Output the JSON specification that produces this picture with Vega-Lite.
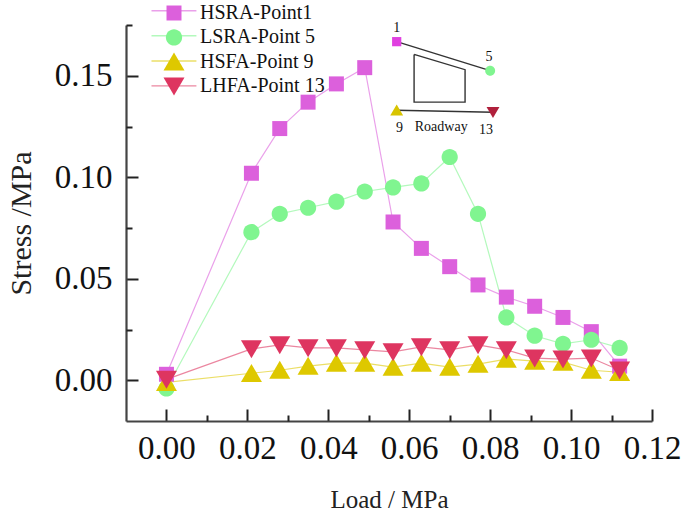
{
"$schema":"https://vega.github.io/schema/vega-lite/v6.json",
"width":526,"height":396,
"autosize":{"type":"none"},
"padding":{"left":126,"top":25,"right":33,"bottom":93},
"background":"white",
"config":{"view":{"stroke":null},"font":"Liberation Serif"},
"datasets":{
"main":[
{"load":0,"stress":0.003,"series":"HSRA-Point1"},{"load":0.021,"stress":0.102,"series":"HSRA-Point1"},{"load":0.028,"stress":0.124,"series":"HSRA-Point1"},{"load":0.035,"stress":0.137,"series":"HSRA-Point1"},{"load":0.042,"stress":0.146,"series":"HSRA-Point1"},{"load":0.049,"stress":0.154,"series":"HSRA-Point1"},{"load":0.056,"stress":0.078,"series":"HSRA-Point1"},{"load":0.063,"stress":0.065,"series":"HSRA-Point1"},{"load":0.07,"stress":0.056,"series":"HSRA-Point1"},{"load":0.077,"stress":0.047,"series":"HSRA-Point1"},{"load":0.084,"stress":0.041,"series":"HSRA-Point1"},{"load":0.091,"stress":0.0365,"series":"HSRA-Point1"},{"load":0.098,"stress":0.031,"series":"HSRA-Point1"},{"load":0.105,"stress":0.024,"series":"HSRA-Point1"},{"load":0.112,"stress":0.007,"series":"HSRA-Point1"},
{"load":0,"stress":-0.004,"series":"LSRA-Point 5"},{"load":0.021,"stress":0.073,"series":"LSRA-Point 5"},{"load":0.028,"stress":0.082,"series":"LSRA-Point 5"},{"load":0.035,"stress":0.085,"series":"LSRA-Point 5"},{"load":0.042,"stress":0.088,"series":"LSRA-Point 5"},{"load":0.049,"stress":0.093,"series":"LSRA-Point 5"},{"load":0.056,"stress":0.095,"series":"LSRA-Point 5"},{"load":0.063,"stress":0.097,"series":"LSRA-Point 5"},{"load":0.07,"stress":0.11,"series":"LSRA-Point 5"},{"load":0.077,"stress":0.082,"series":"LSRA-Point 5"},{"load":0.084,"stress":0.031,"series":"LSRA-Point 5"},{"load":0.091,"stress":0.022,"series":"LSRA-Point 5"},{"load":0.098,"stress":0.018,"series":"LSRA-Point 5"},{"load":0.105,"stress":0.02,"series":"LSRA-Point 5"},{"load":0.112,"stress":0.016,"series":"LSRA-Point 5"},
{"load":0,"stress":-0.001,"series":"HSFA-Point 9"},{"load":0.021,"stress":0.0035,"series":"HSFA-Point 9"},{"load":0.028,"stress":0.005,"series":"HSFA-Point 9"},{"load":0.035,"stress":0.007,"series":"HSFA-Point 9"},{"load":0.042,"stress":0.0085,"series":"HSFA-Point 9"},{"load":0.049,"stress":0.0085,"series":"HSFA-Point 9"},{"load":0.056,"stress":0.0065,"series":"HSFA-Point 9"},{"load":0.063,"stress":0.0085,"series":"HSFA-Point 9"},{"load":0.07,"stress":0.0065,"series":"HSFA-Point 9"},{"load":0.077,"stress":0.008,"series":"HSFA-Point 9"},{"load":0.084,"stress":0.0105,"series":"HSFA-Point 9"},{"load":0.091,"stress":0.0095,"series":"HSFA-Point 9"},{"load":0.098,"stress":0.009,"series":"HSFA-Point 9"},{"load":0.105,"stress":0.005,"series":"HSFA-Point 9"},{"load":0.112,"stress":0.004,"series":"HSFA-Point 9"},
{"load":0,"stress":0.0005,"series":"LHFA-Point 13"},{"load":0.021,"stress":0.0155,"series":"LHFA-Point 13"},{"load":0.028,"stress":0.0175,"series":"LHFA-Point 13"},{"load":0.035,"stress":0.016,"series":"LHFA-Point 13"},{"load":0.042,"stress":0.016,"series":"LHFA-Point 13"},{"load":0.049,"stress":0.015,"series":"LHFA-Point 13"},{"load":0.056,"stress":0.014,"series":"LHFA-Point 13"},{"load":0.063,"stress":0.0165,"series":"LHFA-Point 13"},{"load":0.07,"stress":0.015,"series":"LHFA-Point 13"},{"load":0.077,"stress":0.0175,"series":"LHFA-Point 13"},{"load":0.084,"stress":0.015,"series":"LHFA-Point 13"},{"load":0.091,"stress":0.011,"series":"LHFA-Point 13"},{"load":0.098,"stress":0.0105,"series":"LHFA-Point 13"},{"load":0.105,"stress":0.011,"series":"LHFA-Point 13"},{"load":0.112,"stress":0.005,"series":"LHFA-Point 13"}
],
"legendLines":[
{"load":-0.0037,"load2":0.0074,"stress":0.182,"series":"HSRA-Point1"},
{"load":-0.0037,"load2":0.0074,"stress":0.1697,"series":"LSRA-Point 5"},
{"load":-0.0037,"load2":0.0074,"stress":0.1573,"series":"HSFA-Point 9"},
{"load":-0.0037,"load2":0.0074,"stress":0.145,"series":"LHFA-Point 13"}
],
"insetLines":[
{"part":"top","order":1,"load":0.0569,"stress":0.1668},{"part":"top","order":2,"load":0.08,"stress":0.1525},
{"part":"bottom","order":1,"load":0.0569,"stress":0.133},{"part":"bottom","order":2,"load":0.0807,"stress":0.132},
{"part":"room","order":1,"load":0.0612,"stress":0.1605},{"part":"room","order":2,"load":0.0738,"stress":0.153},{"part":"room","order":3,"load":0.0738,"stress":0.137},{"part":"room","order":4,"load":0.0612,"stress":0.137},{"part":"room","order":5,"load":0.0612,"stress":0.1605}
],
"insetPoints":[
{"load":0.0569,"stress":0.1668,"series":"HSRA-Point1","point":"1"},{"load":0.08,"stress":0.1525,"series":"LSRA-Point 5","point":"5"},{"load":0.0569,"stress":0.133,"series":"HSFA-Point 9","point":"9"},{"load":0.0807,"stress":0.132,"series":"LHFA-Point 13","point":"13"}
],
"insetText":[
{"load":0.0569,"stress":0.1735,"label":"1"},{"load":0.0797,"stress":0.159,"label":"5"},{"load":0.0576,"stress":0.1245,"label":"9"},{"load":0.0679,"stress":0.1247,"label":"Roadway"},{"load":0.0790,"stress":0.1235,"label":"13"}
]
},
"layer":[
{"data":{"name":"main"},
 "mark":{"type":"line","strokeWidth":1.2,"strokeOpacity":0.6},
 "encoding":{
  "x":{"field":"load","type":"quantitative","scale":{"domain":[-0.01,0.12],"nice":false,"zero":false},
   "axis":{"orient":"bottom","values":[0,0.02,0.04,0.06,0.08,0.1,0.12],"format":".2f","title":"Load / MPa","titleFont":"Liberation Serif","titleFontSize":25,"titleFontWeight":"normal","titleColor":"#222","titlePadding":22,"labelFont":"Liberation Serif","labelFontSize":33,"labelColor":"#111","labelPadding":23,"labelFlush":false,"labelOverlap":false,"tickSize":-12,"tickWidth":2,"tickColor":"#222","domainWidth":2.2,"domainColor":"#444","grid":false}},
  "y":{"field":"stress","type":"quantitative","scale":{"domain":[-0.02,0.175],"nice":false,"zero":false},
   "axis":{"orient":"left","values":[0,0.05,0.1,0.15],"format":".2f","title":"Stress /MPa","titleFont":"Liberation Serif","titleFontSize":30,"titleFontWeight":"normal","titleColor":"#222","titlePadding":18,"labelFont":"Liberation Serif","labelFontSize":33,"labelColor":"#111","labelPadding":26,"labelFlush":false,"labelOverlap":false,"tickSize":-12,"tickWidth":2,"tickColor":"#222","domainWidth":2.2,"domainColor":"#444","grid":false}},
  "color":{"field":"series","type":"nominal","title":null,"sort":null,"scale":{"domain":["HSRA-Point1","LSRA-Point 5","HSFA-Point 9","LHFA-Point 13"],"range":["#DC60DC","#80F590","#DEC800","#DE3560"]},
   "legend":{"orient":"none","legendX":38,"legendY":-22,"title":null,"labelFont":"Liberation Serif","labelFontSize":20,"labelColor":"#111","labelOffset":16,"rowPadding":4.4,"gridAlign":"all","symbolSize":225,"symbolStrokeWidth":0,
    "encode":{"symbols":{"update":{"shape":{"signal":"datum.value==='HSRA-Point1'?'M-1,-1H1V1H-1Z':datum.value==='LSRA-Point 5'?'M-1.08,0A1.08,1.08 0 1,1 1.08,0A1.08,1.08 0 1,1 -1.08,0Z':datum.value==='HSFA-Point 9'?'M0,-1.25L1.4,1.15H-1.4Z':'M0,1.25L1.4,-1.15H-1.4Z'"},"fill":{"signal":"scale('color',datum.value)"},"fillOpacity":{"value":1},"opacity":{"value":1}}}}}},
  "detail":{"field":"series"}
 }},
{"data":{"name":"legendLines"},
 "mark":{"type":"rule","strokeWidth":1.4,"strokeOpacity":0.6},
 "encoding":{
  "x":{"field":"load","type":"quantitative","axis":null},
  "x2":{"field":"load2"},
  "y":{"field":"stress","type":"quantitative","axis":null},
  "color":{"field":"series","type":"nominal","title":null,"sort":null}
 }},
{"data":{"name":"main"},
 "mark":{"type":"point","filled":true,"opacity":1,"size":225},
 "encoding":{
  "x":{"field":"load","type":"quantitative","axis":{"orient":"bottom","values":[0.01,0.03,0.05,0.07,0.09,0.11],"labels":false,"title":null,"domain":false,"grid":false,"tickSize":-6,"tickWidth":2,"tickColor":"#222"}},
  "y":{"field":"stress","type":"quantitative","axis":{"orient":"left","values":[0.025,0.075,0.125,0.175],"labels":false,"title":null,"domain":false,"grid":false,"tickSize":-6,"tickWidth":2,"tickColor":"#222"}},
  "color":{"field":"series","type":"nominal","title":null,"sort":null},
  "shape":{"field":"series","type":"nominal","title":null,"sort":null,"legend":null,"scale":{"domain":["HSRA-Point1","LSRA-Point 5","HSFA-Point 9","LHFA-Point 13"],"range":["M-1,-1H1V1H-1Z","M-1.08,0A1.08,1.08 0 1,1 1.08,0A1.08,1.08 0 1,1 -1.08,0Z","M0,-1.25L1.4,1.15H-1.4Z","M0,1.25L1.4,-1.15H-1.4Z"]}}
 }},
{"data":{"name":"insetLines"},
 "mark":{"type":"line","stroke":"#333","strokeWidth":1.4,"order":true},
 "encoding":{"x":{"field":"load","type":"quantitative","axis":null},"y":{"field":"stress","type":"quantitative","axis":null},"detail":{"field":"part"},"order":{"field":"order"}}},
{"data":{"name":"insetPoints"},
 "mark":{"type":"point","filled":true,"opacity":1,"size":85},
 "encoding":{"x":{"field":"load","type":"quantitative","axis":null},"y":{"field":"stress","type":"quantitative","axis":null},
  "shape":{"field":"series","type":"nominal","legend":null},
  "fill":{"field":"point","type":"nominal","legend":null,"scale":{"domain":["1","5","9","13"],"range":["#E040E0","#80F590","#D8C400","#B0203C"]}}}},
{"data":{"name":"insetText"},
 "mark":{"type":"text","font":"Liberation Serif","fontSize":14,"color":"#111"},
 "encoding":{"x":{"field":"load","type":"quantitative","axis":null},"y":{"field":"stress","type":"quantitative","axis":null},"text":{"field":"label"}}}
],
"resolve":{"axis":{"x":"independent","y":"independent"}}
}
